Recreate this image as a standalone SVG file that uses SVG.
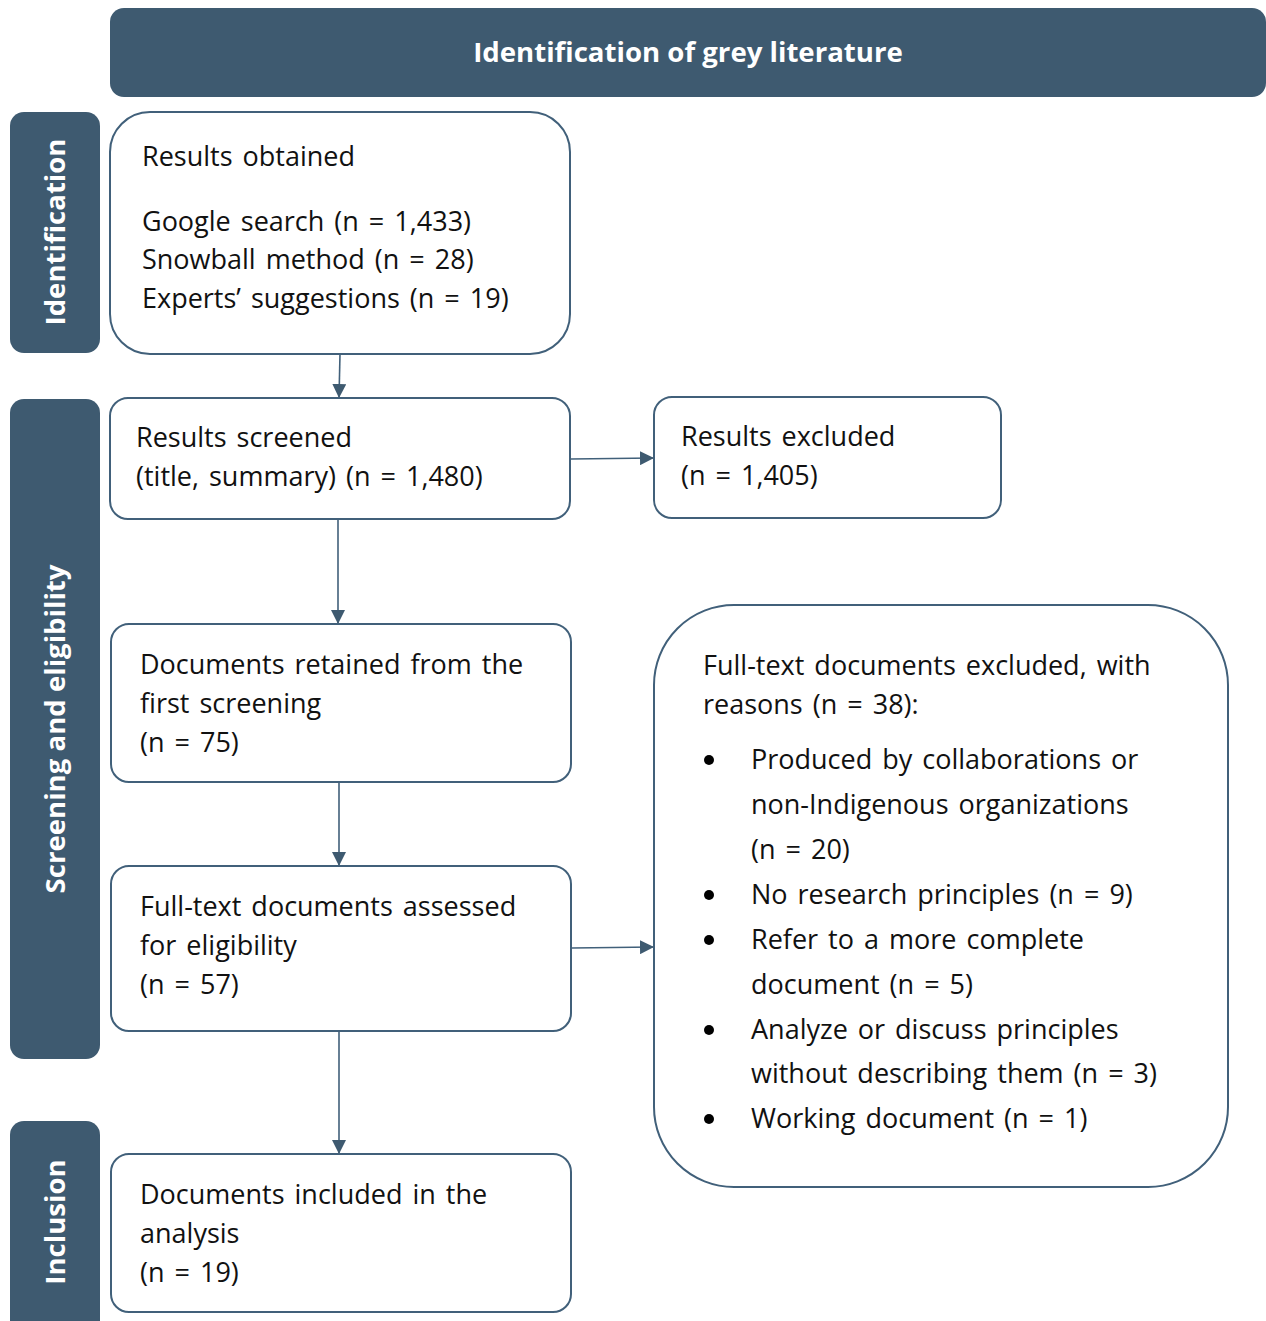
<svg xmlns="http://www.w3.org/2000/svg" width="1266" height="1321" viewBox="0 0 1266 1321">
<style>
.band{fill:#3E5A70}
.box{fill:#fff;stroke:#41607A;stroke-width:2}
.t{font-family:"Open Sans","Noto Sans","DejaVu Sans",sans-serif;font-size:27px;word-spacing:3px;fill:#111}
.h{font-family:"Open Sans","Noto Sans","DejaVu Sans",sans-serif;font-size:27.6px;font-weight:bold;fill:#fff}
.c{stroke:#41607A;stroke-width:1.6;fill:none;marker-end:url(#ah)}
</style>
<defs>
<marker id="ah" viewBox="0 0 10 10" refX="10" refY="5" markerWidth="14" markerHeight="14" markerUnits="userSpaceOnUse" orient="auto">
<path d="M0,0 L10,5 L0,10 z" fill="#3E5A70"/>
</marker>
</defs>
<rect width="1266" height="1321" fill="#fff"/>

<g id="header">
<rect class="band" x="110" y="8" width="1156" height="89" rx="14"/>
<text class="h" x="688" y="62" text-anchor="middle">Identification of grey literature</text>
</g>

<g id="lane-identification">
<rect class="band" x="10" y="112" width="90" height="241" rx="14"/>
<text class="h" transform="translate(65,232) rotate(-90)" text-anchor="middle">Identification</text>
</g>
<g id="lane-screening">
<rect class="band" x="10" y="399" width="90" height="660" rx="14"/>
<text class="h" transform="translate(65,729) rotate(-90)" text-anchor="middle">Screening and eligibility</text>
</g>
<g id="lane-inclusion">
<rect class="band" x="10" y="1121" width="90" height="230" rx="14"/>
<text class="h" transform="translate(65,1222) rotate(-90)" text-anchor="middle">Inclusion</text>
</g>

<g id="connectors">
<line class="c" x1="340" y1="354" x2="339" y2="398"/>
<line class="c" x1="338" y1="519" x2="338" y2="624"/>
<line class="c" x1="339" y1="782" x2="339" y2="866"/>
<line class="c" x1="339" y1="1031" x2="339" y2="1154"/>
<line class="c" x1="571" y1="459" x2="654" y2="458"/>
<line class="c" x1="572" y1="948" x2="654" y2="947"/>
</g>

<g id="results-obtained">
<rect class="box" x="110" y="112" width="460" height="242" rx="40"/>
<text class="t" x="142" y="166">Results obtained</text>
<text class="t" x="142" y="231">Google search (n = 1,433)</text>
<text class="t" x="142" y="269">Snowball method (n = 28)</text>
<text class="t" x="142" y="308">Experts’ suggestions (n = 19)</text>
</g>

<g id="results-screened">
<rect class="box" x="110" y="398" width="460" height="121" rx="18"/>
<text class="t" x="136" y="447">Results screened</text>
<text class="t" x="136" y="486">(title, summary) (n = 1,480)</text>
</g>

<g id="results-excluded">
<rect class="box" x="654" y="397" width="347" height="121" rx="18"/>
<text class="t" x="681" y="446">Results excluded</text>
<text class="t" x="681" y="485">(n = 1,405)</text>
</g>

<g id="documents-retained">
<rect class="box" x="111" y="624" width="460" height="158" rx="18"/>
<text class="t" x="140" y="674">Documents retained from the</text>
<text class="t" x="140" y="713">first screening</text>
<text class="t" x="140" y="752">(n = 75)</text>
</g>

<g id="fulltext-assessed">
<rect class="box" x="111" y="866" width="460" height="165" rx="18"/>
<text class="t" x="140" y="916">Full-text documents assessed</text>
<text class="t" x="140" y="955">for eligibility</text>
<text class="t" x="140" y="994">(n = 57)</text>
</g>

<g id="fulltext-excluded">
<rect class="box" x="654" y="605" width="574" height="582" rx="80"/>
<text class="t" x="703" y="675">Full-text documents excluded, with</text>
<text class="t" x="703" y="714">reasons (n = 38):</text>
<circle cx="709" cy="760" r="5" fill="#000"/>
<circle cx="709" cy="895" r="5" fill="#000"/>
<circle cx="709" cy="940" r="5" fill="#000"/>
<circle cx="709" cy="1030" r="5" fill="#000"/>
<circle cx="709" cy="1119" r="5" fill="#000"/>
<text class="t" x="751" y="769">Produced by collaborations or</text>
<text class="t" x="751" y="814">non-Indigenous organizations</text>
<text class="t" x="751" y="859">(n = 20)</text>
<text class="t" x="751" y="904">No research principles (n = 9)</text>
<text class="t" x="751" y="949">Refer to a more complete</text>
<text class="t" x="751" y="994">document (n = 5)</text>
<text class="t" x="751" y="1039">Analyze or discuss principles</text>
<text class="t" x="751" y="1083">without describing them (n = 3)</text>
<text class="t" x="751" y="1128">Working document (n = 1)</text>
</g>

<g id="documents-included">
<rect class="box" x="111" y="1154" width="460" height="158" rx="18"/>
<text class="t" x="140" y="1204">Documents included in the</text>
<text class="t" x="140" y="1243">analysis</text>
<text class="t" x="140" y="1282">(n = 19)</text>
</g>
</svg>
